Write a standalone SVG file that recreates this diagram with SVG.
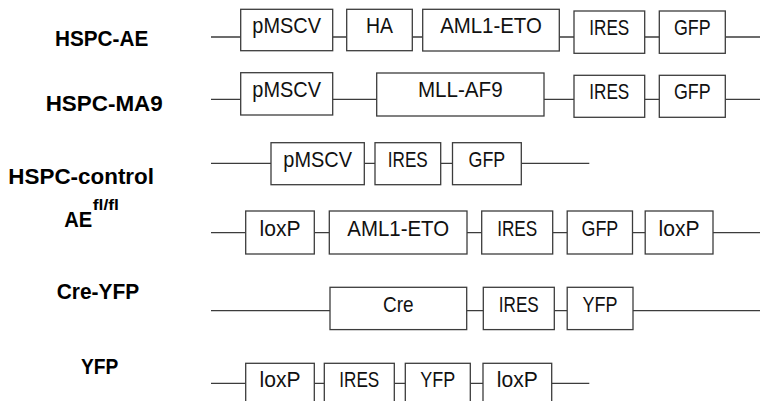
<svg xmlns="http://www.w3.org/2000/svg" width="760" height="401" viewBox="0 0 760 401">
<style>
.bx{fill:#fff;stroke:#3c3c3c;stroke-width:1.3}
.cn{fill:none;stroke:#3c3c3c;stroke-width:1.3}
.t{font-family:"Liberation Sans",Arial,sans-serif;font-size:22px;fill:#111;text-anchor:middle}
.lb{font-family:"Liberation Sans",Arial,sans-serif;font-size:22px;font-weight:bold;fill:#000}
.sup{font-family:"Liberation Sans",Arial,sans-serif;font-size:15px;font-weight:bold;fill:#000}
</style>
<rect width="760" height="401" fill="#fff"/>
<g id="labels">
<text class="lb" x="55" y="45.5" textLength="93.3" lengthAdjust="spacingAndGlyphs">HSPC-AE</text>
<text class="lb" x="45.7" y="110.5" textLength="117" lengthAdjust="spacingAndGlyphs">HSPC-MA9</text>
<text class="lb" x="8.3" y="183.8" textLength="145.7" lengthAdjust="spacingAndGlyphs">HSPC-control</text>
<text class="lb" x="64.3" y="227" textLength="28" lengthAdjust="spacingAndGlyphs">AE</text>
<text class="sup" x="92.7" y="210" textLength="26.3" lengthAdjust="spacingAndGlyphs">fl/fl</text>
<text class="lb" x="56.7" y="298.5" textLength="82.6" lengthAdjust="spacingAndGlyphs">Cre-YFP</text>
<text class="lb" x="81" y="373.5" textLength="37.3" lengthAdjust="spacingAndGlyphs">YFP</text>
</g>
<g id="connectors">
<path class="cn" d="M211 37H240.7M332.7 37H346.7M412.3 37H422.7M559.3 37H574M644.7 37H659.3M725.3 37H760"/>
<path class="cn" d="M211 99.3H240.7M332.7 99.3H376.7M544 99.3H574M644.7 99.3H659.3M725.3 99.3H760"/>
<path class="cn" d="M211 163.3H271M364.3 163.3H375M440.7 163.3H452.5M521.3 163.3H589.3"/>
<path class="cn" d="M211 232.7H245.7M314.3 232.7H329.3M467 232.7H481.7M552.7 232.7H567.2M632.5 232.7H645.2M713 232.7H760"/>
<path class="cn" d="M211 310.7H330M466.7 310.7H483.3M554.3 310.7H567.2M633 310.7H760"/>
<path class="cn" d="M211 383.3H245.7M314.3 383.3H324.3M394.3 383.3H405.3M470.3 383.3H483M551.7 383.3H589.3"/>
</g>
<g id="hspc-ae">
<g id="ae-pmscv"><rect class="bx" x="240.7" y="9.3" width="92" height="41.4"/><text class="t" x="286.7" y="33" textLength="68.7" lengthAdjust="spacingAndGlyphs">pMSCV</text></g>
<g id="ae-ha"><rect class="bx" x="346.7" y="9.3" width="65.6" height="41.4"/><text class="t" x="379.5" y="33" textLength="27" lengthAdjust="spacingAndGlyphs">HA</text></g>
<g id="ae-aml1eto"><rect class="bx" x="422.7" y="9.3" width="136.6" height="41.7"/><text class="t" x="491" y="32.5" textLength="101.7" lengthAdjust="spacingAndGlyphs">AML1-ETO</text></g>
<g id="ae-ires"><rect class="bx" x="574" y="11" width="70.7" height="42.3"/><text class="t" x="609.3" y="34.7" textLength="40" lengthAdjust="spacingAndGlyphs">IRES</text></g>
<g id="ae-gfp"><rect class="bx" x="659.3" y="11" width="66" height="42.3"/><text class="t" x="692.3" y="34.7" textLength="36.7" lengthAdjust="spacingAndGlyphs">GFP</text></g>
</g>
<g id="hspc-ma9">
<g id="ma9-pmscv"><rect class="bx" x="240.7" y="72.7" width="92" height="42.3"/><text class="t" x="286.7" y="96.7" textLength="68.7" lengthAdjust="spacingAndGlyphs">pMSCV</text></g>
<g id="ma9-mllaf9"><rect class="bx" x="376.7" y="73" width="167.3" height="43"/><text class="t" x="460.3" y="97" textLength="84.7" lengthAdjust="spacingAndGlyphs">MLL-AF9</text></g>
<g id="ma9-ires"><rect class="bx" x="574" y="75.3" width="70.7" height="42"/><text class="t" x="609.3" y="99" textLength="40" lengthAdjust="spacingAndGlyphs">IRES</text></g>
<g id="ma9-gfp"><rect class="bx" x="659.3" y="75.3" width="66" height="42"/><text class="t" x="692.3" y="99" textLength="36.7" lengthAdjust="spacingAndGlyphs">GFP</text></g>
</g>
<g id="hspc-control">
<g id="ctl-pmscv"><rect class="bx" x="271" y="142.7" width="93.3" height="42"/><text class="t" x="317.7" y="167" textLength="68.7" lengthAdjust="spacingAndGlyphs">pMSCV</text></g>
<g id="ctl-ires"><rect class="bx" x="375" y="142.7" width="65.7" height="42"/><text class="t" x="407.8" y="167" textLength="40" lengthAdjust="spacingAndGlyphs">IRES</text></g>
<g id="ctl-gfp"><rect class="bx" x="452.5" y="142.7" width="68.8" height="42"/><text class="t" x="486.9" y="167" textLength="36.7" lengthAdjust="spacingAndGlyphs">GFP</text></g>
</g>
<g id="ae-flfl">
<g id="fl-loxp1"><rect class="bx" x="245.7" y="211" width="68.6" height="43"/><text class="t" x="280" y="235.5" textLength="41" lengthAdjust="spacingAndGlyphs">loxP</text></g>
<g id="fl-aml1eto"><rect class="bx" x="329.3" y="211" width="137.7" height="43"/><text class="t" x="398.2" y="235.5" textLength="101.7" lengthAdjust="spacingAndGlyphs">AML1-ETO</text></g>
<g id="fl-ires"><rect class="bx" x="481.7" y="211" width="71" height="43"/><text class="t" x="517.2" y="235.5" textLength="40" lengthAdjust="spacingAndGlyphs">IRES</text></g>
<g id="fl-gfp"><rect class="bx" x="567.2" y="211" width="65.3" height="43"/><text class="t" x="599.9" y="235.5" textLength="36.7" lengthAdjust="spacingAndGlyphs">GFP</text></g>
<g id="fl-loxp2"><rect class="bx" x="645.2" y="211" width="67.8" height="43"/><text class="t" x="679.1" y="235.5" textLength="41" lengthAdjust="spacingAndGlyphs">loxP</text></g>
</g>
<g id="cre-yfp">
<g id="cy-cre"><rect class="bx" x="330" y="287.3" width="136.7" height="42.3"/><text class="t" x="398.3" y="311.7" textLength="30.6" lengthAdjust="spacingAndGlyphs">Cre</text></g>
<g id="cy-ires"><rect class="bx" x="483.3" y="287.3" width="71" height="42.3"/><text class="t" x="518.8" y="311.7" textLength="40" lengthAdjust="spacingAndGlyphs">IRES</text></g>
<g id="cy-yfp"><rect class="bx" x="567.2" y="287.3" width="65.8" height="42.3"/><text class="t" x="600.1" y="311.7" textLength="35" lengthAdjust="spacingAndGlyphs">YFP</text></g>
</g>
<g id="yfp">
<g id="y-loxp1"><rect class="bx" x="245.7" y="363.3" width="68.6" height="45"/><text class="t" x="280" y="387" textLength="41" lengthAdjust="spacingAndGlyphs">loxP</text></g>
<g id="y-ires"><rect class="bx" x="324.3" y="363.3" width="70" height="45"/><text class="t" x="359.3" y="387" textLength="40" lengthAdjust="spacingAndGlyphs">IRES</text></g>
<g id="y-yfp"><rect class="bx" x="405.3" y="363.3" width="65" height="45"/><text class="t" x="437.8" y="387" textLength="35" lengthAdjust="spacingAndGlyphs">YFP</text></g>
<g id="y-loxp2"><rect class="bx" x="483" y="363.3" width="68.7" height="45"/><text class="t" x="517.3" y="387" textLength="41" lengthAdjust="spacingAndGlyphs">loxP</text></g>
</g>
</svg>
